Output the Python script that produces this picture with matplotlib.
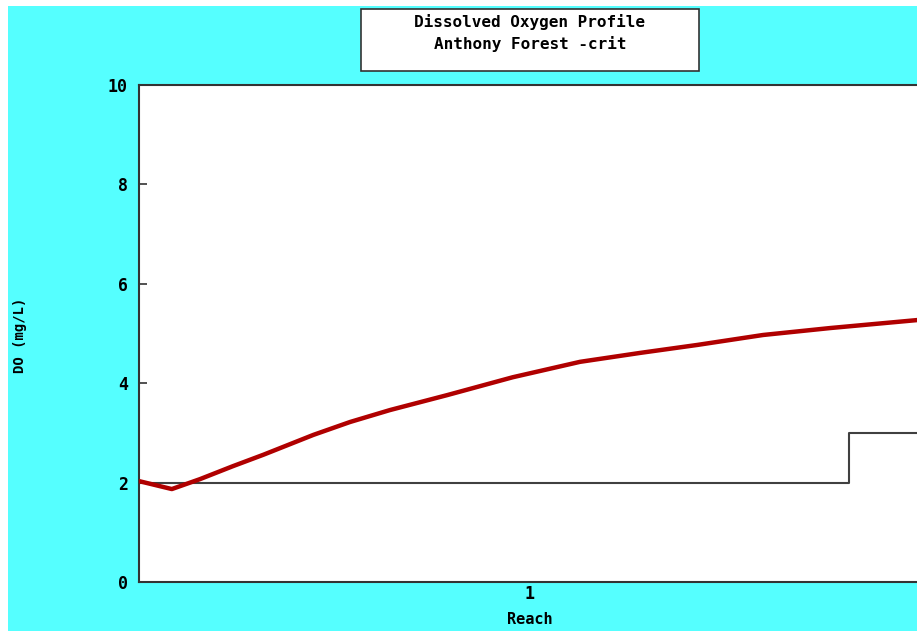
import matplotlib
matplotlib.use("Agg")
import matplotlib.pyplot as plt
from matplotlib.patches import Rectangle

# Dissolved oxygen along the reach (fraction of reach length, mg/L)
reach_pos = [0.0, 0.042, 0.078, 0.12, 0.159, 0.223, 0.27, 0.321, 0.394, 0.478,
             0.564, 0.641, 0.714, 0.798, 0.884, 0.995, 1.0]
do_values = [2.03, 1.87, 2.07, 2.33, 2.56, 2.96, 3.22, 3.46, 3.76, 4.12,
             4.43, 4.61, 4.77, 4.97, 5.11, 5.27, 5.28]

# Water-quality criterion (step function)
crit_pos = [0.0, 0.908, 0.908, 1.0]
crit_values = [2.0, 2.0, 3.0, 3.0]

reach_ticks = [0.5]
reach_labels = ["1"]
y_ticks = [0, 2, 4, 6, 8, 10]

W, H = 917, 631
fig = plt.figure(figsize=(W / 100, H / 100), dpi=100)
fig.patch.set_facecolor("white")
fig.add_artist(Rectangle((8 / W, 0), 1 - 8 / W, (H - 6) / H,
                         transform=fig.transFigure, facecolor="#55FFFF",
                         edgecolor="none", zorder=0))

ax = fig.add_axes([139 / W, (H - 582) / H, (921 - 139) / W, (582 - 85) / H])
ax.set_facecolor("white")
ax.plot(crit_pos, crit_values, color="#404040", lw=1.5, zorder=2)
ax.plot(reach_pos, do_values, color="#B00000", lw=3.2, zorder=3)

ax.set_xlim(0, 1)
ax.set_ylim(0, 10)
ax.set_yticks(y_ticks)
ax.set_xticks(reach_ticks)
ax.set_xticklabels(reach_labels)

font = dict(family="DejaVu Sans Mono", fontweight="bold")
for lbl in ax.get_yticklabels() + ax.get_xticklabels():
    lbl.set_fontfamily("DejaVu Sans Mono")
    lbl.set_fontweight("bold")
    lbl.set_fontsize(12)
ax.tick_params(axis="y", direction="in", length=6, width=1.2, color="#333333", pad=8)
ax.tick_params(axis="x", length=0, pad=2)
for s in ax.spines.values():
    s.set_color("#333333")
    s.set_linewidth(1.5)

ax.set_xlabel("Reach", fontsize=11, labelpad=7, **font)
fig.text(20 / W, 1 - 335 / H, "DO (mg/L)", rotation=90, ha="center", va="center",
         fontsize=10, **font)

# Title box
fig.add_artist(Rectangle((361 / W, 1 - 71 / H), (699 - 361) / W, (71 - 9) / H,
                         transform=fig.transFigure, facecolor="white",
                         edgecolor="#333333", linewidth=1.2, zorder=5))
fig.text(530 / W, 1 - 22 / H, "Dissolved Oxygen Profile", ha="center", va="center",
         fontsize=11.5, zorder=6, **font)
fig.text(530 / W, 1 - 44 / H, "Anthony Forest -crit", ha="center", va="center",
         fontsize=11.5, zorder=6, **font)

fig.savefig("out.png", dpi=100)
